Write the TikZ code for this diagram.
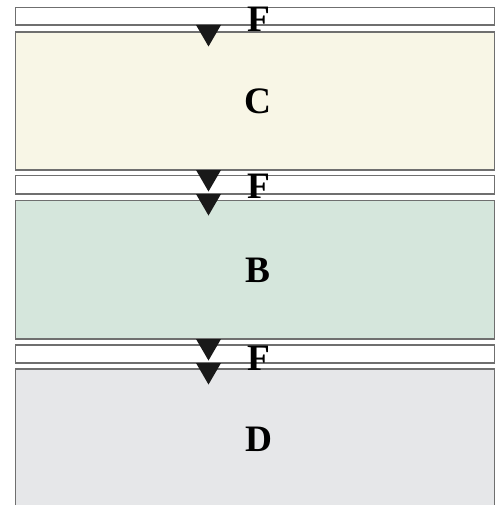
\documentclass[tikz,border=0pt]{standalone}
\usepackage{fontspec}
\setmainfont{Liberation Serif}
\usetikzlibrary{positioning,calc}

\definecolor{creamfill}{HTML}{F8F6E6}
\definecolor{greenfill}{HTML}{D5E6DC}
\definecolor{greyfill}{HTML}{E6E7E9}
\definecolor{edgegrey}{HTML}{6F6F6F}

\tikzset{
  layer/.style={rectangle, draw=edgegrey, line width=1.1pt, inner sep=0pt, outer sep=0pt,
    minimum width=359.25pt},
  strip/.style={layer, fill=white},
  biglabel/.style={inner sep=0pt, font=\fontsize{28}{28}\selectfont\bfseries},
  flabel/.style={biglabel}
}

\begin{document}
\begin{tikzpicture}[x=0.75pt, y=-0.75pt]
	\useasboundingbox (0,0) rectangle (498,506);

	% layers, top to bottom
	\node[strip, minimum height=13.1pt] (F1) at (255,16.25) {};
	\node[layer, fill=creamfill, minimum height=103.5pt] (C) at (255,101) {};
	\node[strip, minimum height=13.9pt] (F2) at (255,184.75) {};
	\node[layer, fill=greenfill, minimum height=103.9pt] (B) at (255,269.75) {};
	\node[strip, minimum height=13.5pt] (F3) at (255,354) {};
	\node[layer, draw=none, fill=greyfill, minimum height=102pt, anchor=north] (D) at (255,369) {};
	\draw[draw=edgegrey, line width=1.1pt] (D.south west) -- (D.north west) -- (D.north east) -- (D.south east);

	% labels
	\node[biglabel] (Clab) at (258,101) {C};
	\node[biglabel] (Blab) at (258,270) {B};
	\node[biglabel] (Dlab) at (259,439.5) {D};
	\node[flabel] (Flab1) at (259,19) {F};
	\node[flabel] (Flab2) at (259,186) {F};
	\node[flabel] (Flab3) at (259,358) {F};

	% flow markers hanging under each layer
	\coordinate (ax) at (208.5,0);
	\foreach \n in {F1,C,F2,B,F3}
		\fill[black!90] (\n.south -| ax) ++(-12.5,0) -- ++(25,0) -- ++(-12.5,21.5) -- cycle;
\end{tikzpicture}
\end{document}
